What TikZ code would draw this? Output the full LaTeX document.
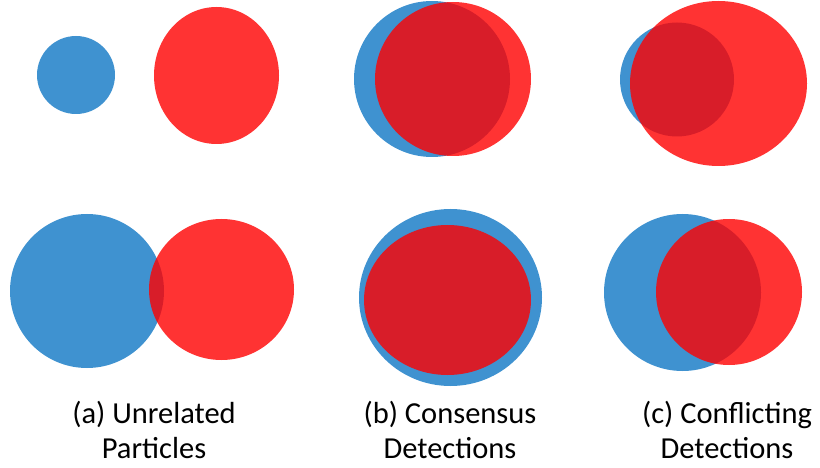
\documentclass[tikz,border=0pt]{standalone}
\usepackage{fontspec}
\setmainfont{Carlito}
\definecolor{partblue}{RGB}{63,146,208}

\begin{document}
\begin{tikzpicture}[x=1pt,y=-1pt,
 particle/.style={fill=partblue},
 detection/.style={fill=red,fill opacity=0.8},
 caption/.style={align=center,inner sep=0pt,font=\fontsize{30.5}{35.5}\selectfont}]
\useasboundingbox (0,0) rectangle (820,468);
% (a) unrelated particles
\fill[particle] (76,75) circle (39);
\fill[detection] (216.5,75.5) ellipse (62.5 and 68.5);
\fill[particle] (87,291) circle (77);
\fill[detection] (221.5,289.5) ellipse (72.5 and 70.5);
% (b) consensus detections
\fill[particle] (432,79) circle (78);
\fill[detection] (453,79) ellipse (78 and 77);
\fill[particle] (450.5,297.5) ellipse (91.5 and 88.5);
\fill[detection] (447.5,300) ellipse (83.5 and 75);
% (c) conflicting detections
\fill[particle] (677,79.5) circle (57);
\fill[detection] (718.5,83.5) ellipse (88.5 and 82.5);
\fill[particle] (682.5,292.5) circle (78.5);
\fill[detection] (729,292) circle (73);
% captions
\node[caption] (capa) at (154,430) {(a) Unrelated\\Particles};
\node[caption] (capb) at (450,430) {(b) Consensus\\Detections};
\node[caption] (capc) at (727,430) {(c) Conflicting\\Detections};
\end{tikzpicture}
\end{document}
